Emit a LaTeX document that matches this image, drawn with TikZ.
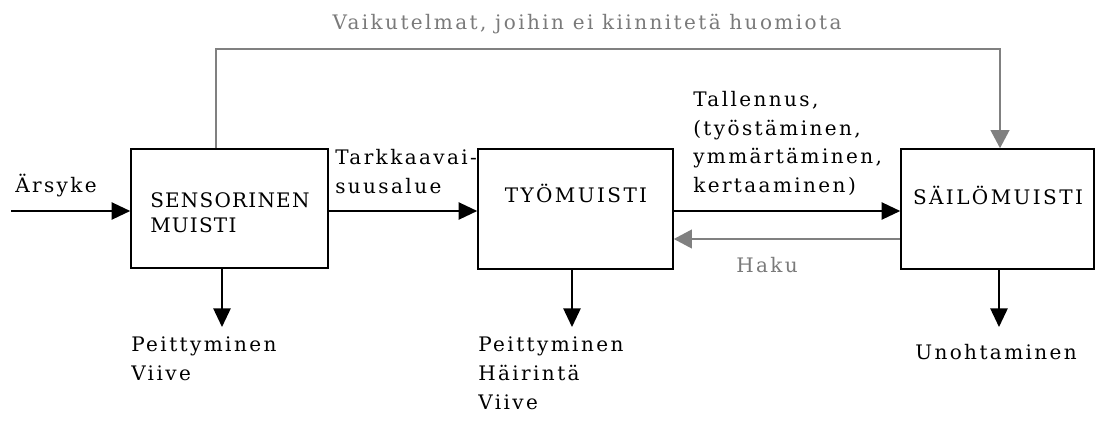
\documentclass[tikz,border=0pt]{standalone}
\usepackage{fontspec}
\setmainfont{DejaVu Serif}[LetterSpace=12]
\usetikzlibrary{arrows.meta}
\definecolor{grline}{HTML}{808080}
\definecolor{grtext}{HTML}{7A7A7A}
\tikzset{
  box/.style={draw, line width=1.2pt, inner sep=0pt},
  txt/.style={inner sep=0pt, align=left, font=\fontsize{15}{21.5}\selectfont},
  boxtxt/.style={inner sep=0pt, align=left, font=\fontsize{15}{19}\selectfont},
  blk/.style={line width=1.2pt, -{Triangle[length=14pt,width=13pt]}},
  gry/.style={line width=1.2pt, draw=grline, -{Triangle[length=13.5pt,width=14pt]}, color=grline},
}
\begin{document}
\begin{tikzpicture}[x=0.75pt,y=-0.75pt]
\useasboundingbox (0,0) rectangle (1096,421);
% boxes
\node[box, minimum width=147.75pt, minimum height=89.25pt] (b1) at (229.5,208.5) {};
\node[box, minimum width=146.25pt, minimum height=90pt] (b2) at (575.5,209) {};
\node[box, minimum width=144.75pt, minimum height=90pt] (b3) at (997.5,209) {};
% box texts
\node[boxtxt, anchor=north west, font=\fontsize{15}{19}\selectfont\addfontfeatures{LetterSpace=6}] (t1) at (150,192) {SENSORINEN\\MUISTI};
\node[boxtxt, anchor=base] (t2) at (576,202.5) {TYÖMUISTI};
\node[boxtxt, anchor=base] (t3) at (998,204.5) {SÄILÖMUISTI};
% helper coordinates
\coordinate (ya) at (0,211);
\coordinate (yh) at (0,239);
\coordinate (in) at (11,211);
\coordinate (tl) at (216,49);
\coordinate (tr) at (1000,49);
\coordinate (d1) at (222,327);
\coordinate (d2) at (572,327);
\coordinate (d3) at (999,327);
% main arrows
\draw[blk] (in) -- (b1.west |- ya);
\draw[blk] (b1.east |- ya) -- (b2.west |- ya);
\draw[blk] (b2.east |- ya) -- (b3.west |- ya);
\draw[gry] (b3.west |- yh) -- (b2.east |- yh);
\draw[gry] (b1.north -| tl) -- (tl) -- (tr) -- (b3.north -| tr);
\draw[blk] (b1.south -| d1) -- (d1);
\draw[blk] (b2.south -| d2) -- (d2);
\draw[blk] (b3.south -| d3) -- (d3);
% labels
\node[txt, anchor=base west] (lin) at (15,192.5) {Ärsyke};
\node[txt, anchor=north west] (l12) at (335,149) {Tarkkaavai-\\suusalue};
\node[txt, anchor=north west] (l23) at (693,91) {Tallennus,\\(työstäminen,\\ymmärtäminen,\\kertaaminen)};
\node[txt, anchor=base west, text=grtext] (lh) at (736,272.5) {Haku};
\node[txt, anchor=base, text=grtext] (ltop) at (587,29.5) {Vaikutelmat, joihin ei kiinnitetä huomiota};
\node[txt, anchor=north west] (o1) at (131,337) {Peittyminen\\Viive};
\node[txt, anchor=north west] (o2) at (478,337) {Peittyminen\\Häirintä\\Viive};
\node[txt, anchor=base west] (o3) at (915,359.5) {Unohtaminen};
\end{tikzpicture}
\end{document}
